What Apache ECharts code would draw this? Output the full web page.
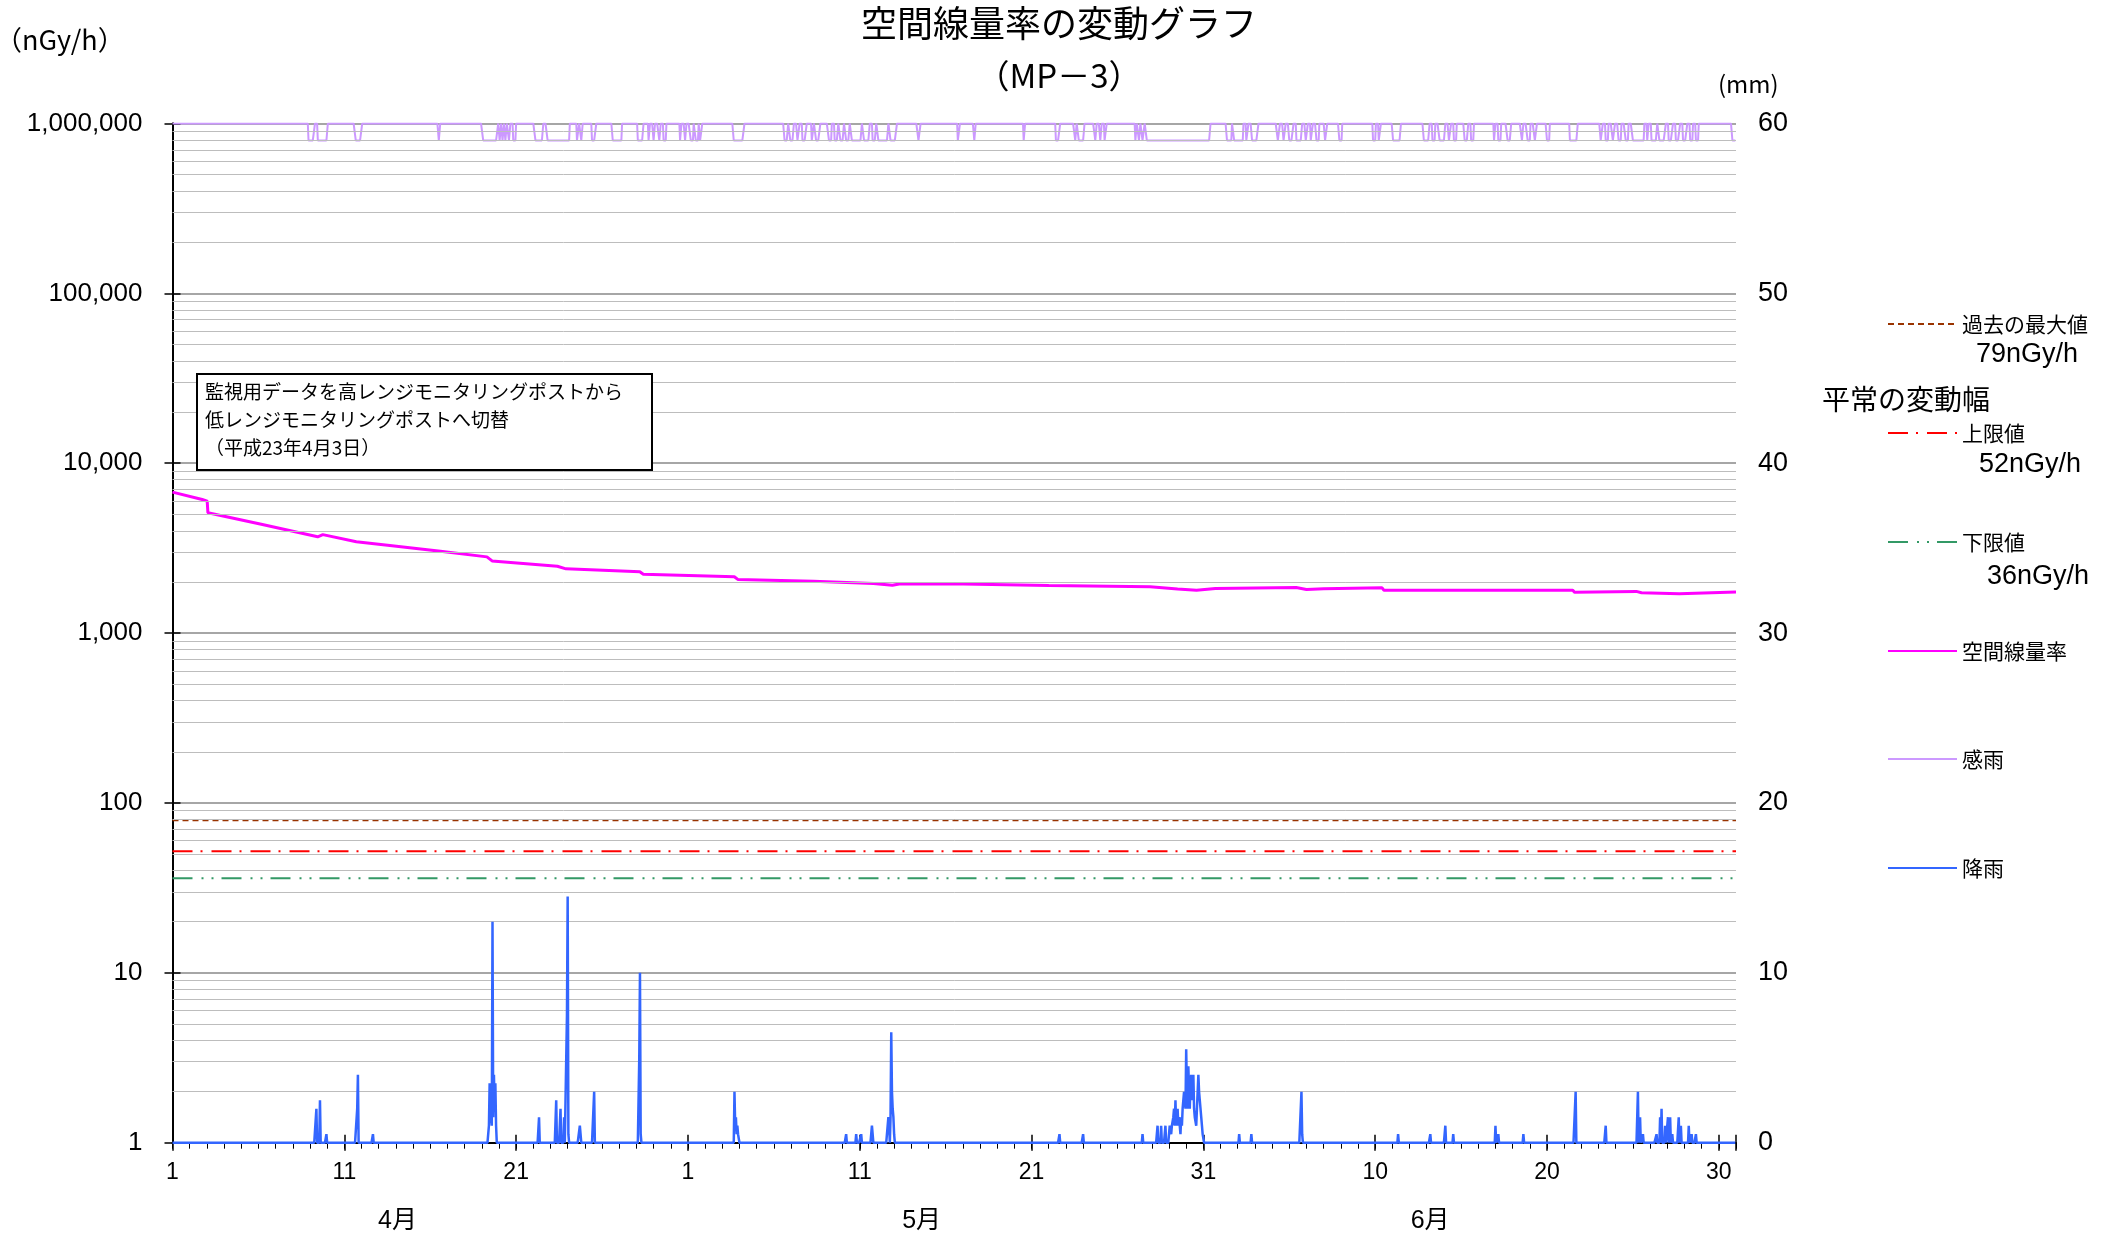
<!DOCTYPE html>
<html>
<head>
<meta charset="utf-8">
<script src="https://cdn.jsdelivr.net/npm/echarts@6/dist/echarts.min.js"></script>
<style>
html, body { margin: 0; padding: 0; background: #fff; }
#chart { width: 2118px; height: 1239px; }
</style>
</head>
<body>
<div id="chart"></div>
<script>
// Time axis: day 0 = 1 April 00:00, the axis ends on 1 July 00:00 (91 days); records are hourly.
const HOURS = 91 * 24;

const dayTickLabels = ['1', '11', '21', '1', '11', '21', '31', '10', '20', '30'];
const monthLabels = ['4月', '5月', '6月'];
const doseTickLabels = ['1', '10', '100', '1,000', '10,000', '100,000', '1,000,000'];

// 空間線量率 (nGy/h) — [day, value]
const doseDays = [0, 1.73, 2.02, 2.06, 5.1, 8.45, 8.55, 8.75, 10.7, 12.65, 15.6, 18.3, 18.6, 22.4, 22.9,
  27.2, 27.4, 32.7, 32.9, 37.3, 40.8, 41.9, 42.3, 45.2, 51.0, 56.9, 58.5, 59.6, 60.7, 65.4, 66.0, 67.0,
  70.4, 70.5, 75.5, 81.5, 81.6, 85.2, 85.5, 87.7, 91.0];
const doseValues = [6760, 6120, 5980, 5110, 4390, 3690, 3650, 3800, 3450, 3280, 3035, 2810, 2660, 2475, 2390,
  2297, 2223, 2146, 2070, 2021, 1961, 1915, 1945, 1950, 1906, 1874, 1820, 1789, 1831, 1856, 1806, 1825,
  1849, 1789, 1789, 1789, 1741, 1760, 1727, 1703, 1745];

// 降雨 (mm per hour) — hour index and amount; every other hour is 0
const rainHour = [201, 206, 215, 258, 259, 280,
  442, 443, 444, 445, 446, 447, 448, 449, 450, 451, 452,
  512, 536, 542, 547, 551, 552, 553, 569, 570, 589, 652, 653, 654,
  785, 786, 787, 788, 789, 790, 791, 941, 955, 962, 977, 978,
  1000, 1001, 1003, 1004, 1005, 1006, 1007, 1008,
  1239, 1272, 1355, 1376, 1381, 1387,
  1392, 1393, 1394, 1395, 1396, 1397, 1398, 1399, 1400, 1401, 1402, 1403, 1404, 1405, 1406, 1407,
  1408, 1409, 1410, 1411, 1412, 1413, 1414, 1415, 1416, 1417, 1418, 1419, 1420, 1421, 1422, 1423,
  1424, 1425, 1426, 1427, 1428, 1429, 1430, 1431, 1432, 1433, 1434, 1435, 1436, 1437, 1438, 1439, 1440,
  1490, 1507, 1577, 1578, 1712, 1757, 1778, 1789, 1848, 1852, 1887, 1960, 2002,
  2047, 2050, 2054, 2073, 2078, 2080, 2085, 2089, 2092, 2095, 2104, 2107, 2118, 2122, 2128];
const rainMm = [2.0, 2.5, 0.5, 2.0, 4.0, 0.5,
  1.0, 3.5, 2.5, 1.5, 1.0, 13.0, 1.5, 4.0, 2.0, 3.5, 1.0,
  1.5, 2.5, 2.0, 1.5, 7.5, 14.5, 0.5, 1.0, 1.0, 3.0, 5.0, 10.0, 0.5,
  3.0, 1.0, 1.5, 0.5, 1.0, 0.5, 0.5, 0.5, 0.5, 0.5, 1.0, 1.0,
  1.5, 1.0, 1.5, 6.5, 3.0, 2.0, 1.5, 0.5,
  0.5, 0.5, 0.5, 1.0, 1.0, 1.0,
  0.5, 1.0, 1.0, 0.5, 1.0, 1.0, 1.5, 2.0, 1.0, 2.5, 1.0, 1.5, 2.0, 1.0, 1.5, 1.0,
  0.5, 1.5, 1.0, 2.0, 2.0, 3.0, 2.5, 2.0, 5.5, 3.0, 2.0, 4.5, 3.0, 2.0, 3.5, 4.0,
  2.5, 3.0, 4.0, 2.0, 1.5, 1.5, 1.0, 2.0, 3.0, 4.0, 3.0, 2.5, 2.5, 1.5, 1.0, 0.5, 0.5,
  0.5, 0.5, 3.0, 0.5, 0.5, 0.5, 1.0, 0.5, 1.0, 0.5, 0.5, 3.0, 1.0,
  3.0, 1.5, 0.5, 0.5, 1.5, 2.0, 1.0, 1.5, 1.5, 0.5, 1.5, 1.0, 1.0, 0.5, 0.5];

// 感雨 — hours in which the rain sensor was on: [start, end) hour indices
const senseStart = [190, 203, 256, 372, 434, 457, 461, 465, 470, 476, 507, 524, 565, 571, 586, 615,
  650, 665, 672, 680, 686, 709, 716, 724, 731, 737, 784, 855, 863, 873, 880, 893, 899, 917, 925, 933,
  941, 949, 966, 978, 986, 1003, 1042, 1097, 1120, 1189, 1234, 1261, 1266, 1289, 1296, 1302,
  1345, 1350, 1355, 1361, 1473, 1483, 1500, 1508, 1544, 1552, 1560, 1570, 1583, 1590, 1598, 1610,
  1630, 1677, 1685, 1705, 1748, 1760, 1770, 1783, 1790, 1805, 1814, 1846, 1852, 1865, 1885, 1893,
  1903, 1920, 1952, 1995, 2002, 2012, 2020, 2030, 2040, 2060, 2066, 2077, 2090, 2100, 2110, 2120,
  2128, 2179];
const senseEnd = [199, 217, 265, 374, 455, 459, 463, 467, 472, 480, 518, 555, 568, 573, 592, 628,
  658, 667, 674, 682, 690, 711, 718, 728, 735, 740, 799, 860, 868, 876, 886, 896, 905, 921, 930, 938,
  946, 963, 974, 983, 1000, 1012, 1045, 1100, 1122, 1191, 1240, 1263, 1274, 1291, 1298, 1305,
  1347, 1352, 1358, 1450, 1480, 1496, 1503, 1517, 1547, 1555, 1566, 1578, 1586, 1593, 1602, 1613,
  1634, 1681, 1688, 1716, 1756, 1764, 1778, 1786, 1794, 1810, 1818, 1848, 1856, 1870, 1887, 1897,
  1906, 1924, 1963, 1998, 2006, 2015, 2024, 2034, 2056, 2062, 2074, 2086, 2096, 2106, 2116, 2124,
  2132, 2184];
const SENSE_OFF = 60;  // mm-axis level while dry
const SENSE_ON = 59;   // mm-axis level while rain is sensed

// Reference levels (nGy/h)
const pastMax = 79;
const upperLimit = 52;
const lowerLimit = 36;

const LATIN = "'Liberation Sans', 'Noto Sans CJK JP', sans-serif";
const JP = "'Noto Sans CJK JP', sans-serif";
const DAYS = 91;

const rain = new Array(HOURS).fill(0);
rainHour.forEach((h, i) => { rain[h] = rainMm[i]; });
const sense = new Array(HOURS).fill(SENSE_OFF);
senseStart.forEach((s, i) => { for (let h = s; h < senseEnd[i]; h++) sense[h] = SENSE_ON; });

const doseData = doseDays.map((d, i) => [d, doseValues[i]]);
const rainData = rain.map((v, h) => [h / 24, v]);
const senseData = sense.map((v, h) => [h / 24, v]);
const flat = v => [[0, v], [DAYS, v]];

// Log-scale minor grid: 2..9 within each decade
const minorGrid = [];
for (let d = 1; d < 1e6; d *= 10) for (let k = 2; k <= 9; k++) minorGrid.push({ yAxis: d * k });

// Legend keys show only the line sample (the marker dot is hidden)
const legendBase = {
  orient: 'vertical', left: 1887, padding: 0, itemWidth: 69, itemHeight: 24,
  selectedMode: false,
  itemStyle: { opacity: 0, borderWidth: 0 },
  textStyle: { fontSize: 21, fontFamily: JP, color: '#000', lineHeight: 24 }
};

const lineSeries = (name, axis, data, color, width, dash, z) => ({
  name, type: 'line', yAxisIndex: axis, data, symbol: 'none', showSymbol: false, z,
  lineStyle: { color, width, type: dash || 'solid' },
  itemStyle: { color, opacity: 0 }
});

const chart = echarts.init(document.getElementById('chart'), null, { renderer: 'canvas' });
chart.setOption({
  animation: false,
  backgroundColor: '#fff',
  title: [
    { text: '空間線量率の変動グラフ', left: 'center', top: 5, padding: 0,
      textStyle: { fontSize: 36, fontWeight: 'normal', fontFamily: JP, color: '#000' } },
    { text: '（MP－3）', left: 'center', top: 59, padding: 0,
      textStyle: { fontSize: 33, fontWeight: 'normal', fontFamily: JP, color: '#000' } },
    { text: '（nGy/h）', left: -5, top: 26, padding: 0,
      textStyle: { fontSize: 27, fontWeight: 'normal', fontFamily: JP, color: '#000' } },
    { text: '(mm)', left: 1718, top: 72, padding: 0,
      textStyle: { fontSize: 24, fontWeight: 'normal', fontFamily: JP, color: '#000' } }
  ],
  legend: [
    Object.assign({}, legendBase, { data: ['過去の最大値'], top: 312 }),
    Object.assign({}, legendBase, { data: ['上限値'], top: 421 }),
    Object.assign({}, legendBase, { data: ['下限値'], top: 530 }),
    Object.assign({}, legendBase, { data: ['空間線量率'], top: 639 }),
    Object.assign({}, legendBase, { data: ['感雨'], top: 747 }),
    Object.assign({}, legendBase, { data: ['降雨'], top: 856 })
  ],
  graphic: [
    { type: 'text', x: 1976, y: 355, z: 10,
      style: { text: '79nGy/h', font: "27px 'Liberation Sans'", fill: '#000', verticalAlign: 'middle' } },
    { type: 'text', x: 1822, y: 399, z: 10,
      style: { text: '平常の変動幅', font: "28px 'Noto Sans CJK JP'", fill: '#000', verticalAlign: 'middle' } },
    { type: 'text', x: 1979, y: 465, z: 10,
      style: { text: '52nGy/h', font: "27px 'Liberation Sans'", fill: '#000', verticalAlign: 'middle' } },
    { type: 'text', x: 1987, y: 577, z: 10,
      style: { text: '36nGy/h', font: "27px 'Liberation Sans'", fill: '#000', verticalAlign: 'middle' } },
    { type: 'rect', z: 100, shape: { x: 197, y: 374, width: 455, height: 96 },
      style: { fill: '#fff', stroke: '#000', lineWidth: 2 } },
    { type: 'text', x: 205, y: 378, z: 101,
      style: { text: '監視用データを高レンジモニタリングポストから\n低レンジモニタリングポストへ切替\n（平成23年4月3日）',
        font: "19px 'Noto Sans CJK JP'", lineHeight: 28, fill: '#000' } }
  ],
  grid: { left: 172.5, right: 382, top: 123.5, bottom: 96.3, containLabel: false },
  xAxis: [
    { // day-of-month labels and the 10-day ticks below the axis
      type: 'value', min: 0, max: DAYS, interval: 10,
      axisLine: { show: true, lineStyle: { color: '#000', width: 2 } },
      axisTick: { show: true, length: 8, lineStyle: { color: '#000', width: 1.5 } },
      axisLabel: { margin: 18, fontSize: 23, color: '#000', fontFamily: LATIN,
        formatter: v => (Number.isInteger(v / 10) && dayTickLabels[v / 10] !== undefined) ? dayTickLabels[v / 10] : '' },
      splitLine: { show: false }
    },
    { // daily ticks
      type: 'value', min: 0, max: DAYS, interval: 1, position: 'bottom',
      axisLine: { show: false },
      axisTick: { show: true, length: 6, lineStyle: { color: '#000', width: 1 } },
      axisLabel: { show: false }, splitLine: { show: false }
    },
    { // upper half of the 10-day ticks
      type: 'value', min: 0, max: DAYS, interval: 10, position: 'bottom',
      axisLine: { show: false },
      axisTick: { show: true, inside: true, length: 8, lineStyle: { color: '#000', width: 1.5 } },
      axisLabel: { show: false }, splitLine: { show: false }
    },
    { // month names
      type: 'value', min: 0, max: DAYS, position: 'bottom',
      axisLine: { show: false }, axisTick: { show: false }, splitLine: { show: false },
      axisLabel: { customValues: [13.1, 43.6, 73.2], margin: 66, fontSize: 25, color: '#000', fontFamily: LATIN,
        formatter: v => monthLabels[v < 30 ? 0 : (v < 61 ? 1 : 2)] }
    }
  ],
  yAxis: [
    {
      type: 'log', logBase: 10, min: 1, max: 1000000, splitNumber: 6, position: 'left',
      axisLine: { show: true, lineStyle: { color: '#000', width: 2 } },
      axisTick: { show: true, inside: true, length: 8, lineStyle: { color: '#000', width: 1.5 } },
      axisLabel: { margin: 30, fontSize: 26, color: '#000', fontFamily: LATIN,
        formatter: v => doseTickLabels[Math.round(Math.log10(v))] },
      splitLine: { show: true, lineStyle: { color: '#888', width: 1.5 } },
      minorTick: { show: false }, minorSplitLine: { show: false }
    },
    {
      type: 'value', min: 0, max: 60, interval: 10, position: 'right',
      axisLine: { show: true, lineStyle: { color: '#000', width: 2 } },
      axisTick: { show: true, inside: true, length: 8, lineStyle: { color: '#000', width: 1.5 } },
      axisLabel: { margin: 22, fontSize: 27, color: '#000', fontFamily: LATIN },
      splitLine: { show: false }
    }
  ],
  series: [
    { name: 'grid-minor', type: 'line', xAxisIndex: 0, yAxisIndex: 0, data: [], silent: true, z: 1,
      markLine: { silent: true, symbol: 'none', animation: false, label: { show: false },
        lineStyle: { color: '#bdbdbd', width: 1, type: 'solid' }, emphasis: { disabled: true },
        data: minorGrid } },
    lineSeries('過去の最大値', 0, flat(pastMax), '#993300', 2, [6, 4], 3),
    lineSeries('上限値', 0, flat(upperLimit), '#ff0000', 2, [20, 8, 2, 9], 3),
    lineSeries('下限値', 0, flat(lowerLimit), '#339966', 2, [20, 9, 2, 8, 2, 8], 3),
    lineSeries('空間線量率', 0, doseData, '#ff00ff', 3, null, 4),
    lineSeries('感雨', 1, senseData, '#cc99ff', 2, null, 4),
    lineSeries('降雨', 1, rainData, '#3366ff', 2.5, null, 5)
  ]
});
</script>
</body>
</html>
